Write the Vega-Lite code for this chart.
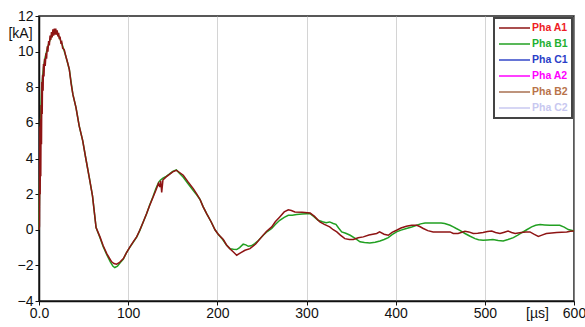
{
  "$schema": "https://vega.github.io/schema/vega-lite/v6.json",
  "autosize": "none",
  "width": 535,
  "height": 285,
  "padding": {"left": 39, "top": 16, "right": 11, "bottom": 26},
  "background": "white",
  "config": {
    "view": {"stroke": "#222", "strokeWidth": 1.5},
    "font": "Liberation Sans",
    "axis": {
      "gridDash": [1, 1],
      "gridColor": "#a8a8a8",
      "gridWidth": 1,
      "domainColor": "#111",
      "domainWidth": 1.5,
      "tickColor": "#111",
      "tickSize": 4,
      "labelColor": "#111",
      "labelFont": "Liberation Sans",
      "titleFont": "Liberation Sans",
      "titleFontWeight": "normal",
      "titleColor": "#111",
      "labelOverlap": false
    },
    "legend": {"strokeWidth": 2}
  },
  "datasets": {
    "curves": [
      {"phase": "Pha B1", "t": 0, "v": 0},
      {"phase": "Pha B1", "t": 1, "v": 4.0},
      {"phase": "Pha B1", "t": 2, "v": 6.5},
      {"phase": "Pha B1", "t": 3, "v": 8.0},
      {"phase": "Pha B1", "t": 5, "v": 9.1},
      {"phase": "Pha B1", "t": 7, "v": 9.7},
      {"phase": "Pha B1", "t": 10, "v": 10.3},
      {"phase": "Pha B1", "t": 14, "v": 10.9},
      {"phase": "Pha B1", "t": 18, "v": 11.1},
      {"phase": "Pha B1", "t": 22, "v": 10.9},
      {"phase": "Pha B1", "t": 26, "v": 10.4},
      {"phase": "Pha B1", "t": 30, "v": 9.75},
      {"phase": "Pha B1", "t": 34, "v": 9.0},
      {"phase": "Pha B1", "t": 38, "v": 7.6},
      {"phase": "Pha B1", "t": 41.5, "v": 6.86},
      {"phase": "Pha B1", "t": 45, "v": 5.85},
      {"phase": "Pha B1", "t": 49, "v": 5.0},
      {"phase": "Pha B1", "t": 52.5, "v": 4.0},
      {"phase": "Pha B1", "t": 56.4, "v": 2.93},
      {"phase": "Pha B1", "t": 60, "v": 1.9},
      {"phase": "Pha B1", "t": 64, "v": 0.12},
      {"phase": "Pha B1", "t": 68.4, "v": -0.45},
      {"phase": "Pha B1", "t": 72, "v": -0.95},
      {"phase": "Pha B1", "t": 76, "v": -1.4},
      {"phase": "Pha B1", "t": 80, "v": -1.8},
      {"phase": "Pha B1", "t": 83, "v": -2.05},
      {"phase": "Pha B1", "t": 85, "v": -2.12},
      {"phase": "Pha B1", "t": 88, "v": -2.05},
      {"phase": "Pha B1", "t": 91, "v": -1.85},
      {"phase": "Pha B1", "t": 94.6, "v": -1.65},
      {"phase": "Pha B1", "t": 98, "v": -1.3},
      {"phase": "Pha B1", "t": 102, "v": -0.98},
      {"phase": "Pha B1", "t": 106, "v": -0.68},
      {"phase": "Pha B1", "t": 109.5, "v": -0.42},
      {"phase": "Pha B1", "t": 113, "v": -0.05},
      {"phase": "Pha B1", "t": 117, "v": 0.45},
      {"phase": "Pha B1", "t": 120.7, "v": 0.9},
      {"phase": "Pha B1", "t": 124, "v": 1.38},
      {"phase": "Pha B1", "t": 128, "v": 1.88},
      {"phase": "Pha B1", "t": 131, "v": 2.3},
      {"phase": "Pha B1", "t": 134, "v": 2.65},
      {"phase": "Pha B1", "t": 136, "v": 2.78},
      {"phase": "Pha B1", "t": 139, "v": 2.9},
      {"phase": "Pha B1", "t": 142.6, "v": 3.0},
      {"phase": "Pha B1", "t": 146, "v": 3.12},
      {"phase": "Pha B1", "t": 150, "v": 3.28},
      {"phase": "Pha B1", "t": 154, "v": 3.36},
      {"phase": "Pha B1", "t": 158, "v": 3.15},
      {"phase": "Pha B1", "t": 161.8, "v": 2.95},
      {"phase": "Pha B1", "t": 167, "v": 2.6},
      {"phase": "Pha B1", "t": 173, "v": 2.2},
      {"phase": "Pha B1", "t": 177, "v": 1.95},
      {"phase": "Pha B1", "t": 180.6, "v": 1.7},
      {"phase": "Pha B1", "t": 184, "v": 1.3},
      {"phase": "Pha B1", "t": 188, "v": 0.91},
      {"phase": "Pha B1", "t": 193, "v": 0.45},
      {"phase": "Pha B1", "t": 197.4, "v": 0.0},
      {"phase": "Pha B1", "t": 201, "v": -0.25},
      {"phase": "Pha B1", "t": 206, "v": -0.55},
      {"phase": "Pha B1", "t": 210, "v": -0.85},
      {"phase": "Pha B1", "t": 214, "v": -1.06},
      {"phase": "Pha B1", "t": 218, "v": -1.1},
      {"phase": "Pha B1", "t": 221.7, "v": -1.11},
      {"phase": "Pha B1", "t": 225, "v": -1.0},
      {"phase": "Pha B1", "t": 229, "v": -0.81},
      {"phase": "Pha B1", "t": 232, "v": -0.85},
      {"phase": "Pha B1", "t": 234.7, "v": -0.93},
      {"phase": "Pha B1", "t": 238, "v": -0.9},
      {"phase": "Pha B1", "t": 242, "v": -0.78},
      {"phase": "Pha B1", "t": 246, "v": -0.6},
      {"phase": "Pha B1", "t": 251.5, "v": -0.31},
      {"phase": "Pha B1", "t": 256, "v": -0.1},
      {"phase": "Pha B1", "t": 261, "v": 0.07},
      {"phase": "Pha B1", "t": 265, "v": 0.3},
      {"phase": "Pha B1", "t": 270, "v": 0.53},
      {"phase": "Pha B1", "t": 275, "v": 0.7},
      {"phase": "Pha B1", "t": 279.6, "v": 0.81},
      {"phase": "Pha B1", "t": 284, "v": 0.82},
      {"phase": "Pha B1", "t": 289, "v": 0.85},
      {"phase": "Pha B1", "t": 295, "v": 0.88},
      {"phase": "Pha B1", "t": 300, "v": 0.9},
      {"phase": "Pha B1", "t": 304, "v": 0.91},
      {"phase": "Pha B1", "t": 308, "v": 0.75},
      {"phase": "Pha B1", "t": 313, "v": 0.53},
      {"phase": "Pha B1", "t": 318, "v": 0.45},
      {"phase": "Pha B1", "t": 322, "v": 0.4},
      {"phase": "Pha B1", "t": 326, "v": 0.44},
      {"phase": "Pha B1", "t": 330, "v": 0.35},
      {"phase": "Pha B1", "t": 333, "v": 0.3},
      {"phase": "Pha B1", "t": 336, "v": 0.1},
      {"phase": "Pha B1", "t": 339.5, "v": -0.12},
      {"phase": "Pha B1", "t": 344, "v": -0.2},
      {"phase": "Pha B1", "t": 349, "v": -0.31},
      {"phase": "Pha B1", "t": 355, "v": -0.5},
      {"phase": "Pha B1", "t": 360, "v": -0.68},
      {"phase": "Pha B1", "t": 365, "v": -0.72},
      {"phase": "Pha B1", "t": 371, "v": -0.74},
      {"phase": "Pha B1", "t": 377, "v": -0.7},
      {"phase": "Pha B1", "t": 382.4, "v": -0.63},
      {"phase": "Pha B1", "t": 387, "v": -0.55},
      {"phase": "Pha B1", "t": 391.7, "v": -0.44},
      {"phase": "Pha B1", "t": 396, "v": -0.28},
      {"phase": "Pha B1", "t": 401, "v": -0.12},
      {"phase": "Pha B1", "t": 406, "v": -0.02},
      {"phase": "Pha B1", "t": 412, "v": 0.07},
      {"phase": "Pha B1", "t": 418, "v": 0.15},
      {"phase": "Pha B1", "t": 423.6, "v": 0.25},
      {"phase": "Pha B1", "t": 428, "v": 0.33},
      {"phase": "Pha B1", "t": 433, "v": 0.38},
      {"phase": "Pha B1", "t": 440, "v": 0.38},
      {"phase": "Pha B1", "t": 446, "v": 0.38},
      {"phase": "Pha B1", "t": 451, "v": 0.38},
      {"phase": "Pha B1", "t": 455, "v": 0.35},
      {"phase": "Pha B1", "t": 461, "v": 0.25},
      {"phase": "Pha B1", "t": 464.6, "v": 0.16},
      {"phase": "Pha B1", "t": 468, "v": 0.07},
      {"phase": "Pha B1", "t": 472, "v": -0.03},
      {"phase": "Pha B1", "t": 477.7, "v": -0.21},
      {"phase": "Pha B1", "t": 483, "v": -0.35},
      {"phase": "Pha B1", "t": 489, "v": -0.5},
      {"phase": "Pha B1", "t": 493, "v": -0.56},
      {"phase": "Pha B1", "t": 498, "v": -0.59},
      {"phase": "Pha B1", "t": 503, "v": -0.57},
      {"phase": "Pha B1", "t": 509, "v": -0.55},
      {"phase": "Pha B1", "t": 515, "v": -0.6},
      {"phase": "Pha B1", "t": 520.6, "v": -0.63},
      {"phase": "Pha B1", "t": 526, "v": -0.55},
      {"phase": "Pha B1", "t": 532, "v": -0.44},
      {"phase": "Pha B1", "t": 537, "v": -0.3},
      {"phase": "Pha B1", "t": 541, "v": -0.18},
      {"phase": "Pha B1", "t": 547, "v": 0.0},
      {"phase": "Pha B1", "t": 552.5, "v": 0.16},
      {"phase": "Pha B1", "t": 557, "v": 0.25},
      {"phase": "Pha B1", "t": 562, "v": 0.29},
      {"phase": "Pha B1", "t": 567, "v": 0.27},
      {"phase": "Pha B1", "t": 573, "v": 0.25},
      {"phase": "Pha B1", "t": 578, "v": 0.25},
      {"phase": "Pha B1", "t": 584, "v": 0.25},
      {"phase": "Pha B1", "t": 589, "v": 0.15},
      {"phase": "Pha B1", "t": 593.6, "v": 0.01},
      {"phase": "Pha B1", "t": 600, "v": -0.07},

      {"phase": "Pha A1", "t": 0, "v": 0},
      {"phase": "Pha A1", "t": 0.5, "v": 0.2},
      {"phase": "Pha A1", "t": 1, "v": 5.8},
      {"phase": "Pha A1", "t": 1.3, "v": 2.0},
      {"phase": "Pha A1", "t": 1.7, "v": 6.2},
      {"phase": "Pha A1", "t": 2, "v": 3.0},
      {"phase": "Pha A1", "t": 2.4, "v": 7.0},
      {"phase": "Pha A1", "t": 2.8, "v": 4.8},
      {"phase": "Pha A1", "t": 3.2, "v": 8.3},
      {"phase": "Pha A1", "t": 3.6, "v": 6.5},
      {"phase": "Pha A1", "t": 4, "v": 8.7},
      {"phase": "Pha A1", "t": 4.6, "v": 7.8},
      {"phase": "Pha A1", "t": 5, "v": 9.3},
      {"phase": "Pha A1", "t": 5.6, "v": 8.6},
      {"phase": "Pha A1", "t": 6.2, "v": 9.6},
      {"phase": "Pha A1", "t": 7, "v": 9.2},
      {"phase": "Pha A1", "t": 7.8, "v": 9.9},
      {"phase": "Pha A1", "t": 8.5, "v": 9.6},
      {"phase": "Pha A1", "t": 9.3, "v": 10.3},
      {"phase": "Pha A1", "t": 10, "v": 10.0},
      {"phase": "Pha A1", "t": 10.8, "v": 10.6},
      {"phase": "Pha A1", "t": 11.6, "v": 10.35},
      {"phase": "Pha A1", "t": 12.4, "v": 10.9},
      {"phase": "Pha A1", "t": 13.2, "v": 10.65},
      {"phase": "Pha A1", "t": 14, "v": 11.1},
      {"phase": "Pha A1", "t": 14.8, "v": 10.8},
      {"phase": "Pha A1", "t": 15.6, "v": 11.25},
      {"phase": "Pha A1", "t": 16.4, "v": 10.9},
      {"phase": "Pha A1", "t": 17.2, "v": 11.3},
      {"phase": "Pha A1", "t": 18, "v": 10.95},
      {"phase": "Pha A1", "t": 18.8, "v": 11.3},
      {"phase": "Pha A1", "t": 19.6, "v": 10.95},
      {"phase": "Pha A1", "t": 20.4, "v": 11.2},
      {"phase": "Pha A1", "t": 21.2, "v": 10.85},
      {"phase": "Pha A1", "t": 22, "v": 11.05},
      {"phase": "Pha A1", "t": 22.8, "v": 10.7},
      {"phase": "Pha A1", "t": 23.6, "v": 10.85},
      {"phase": "Pha A1", "t": 24.5, "v": 10.5},
      {"phase": "Pha A1", "t": 25.5, "v": 10.55},
      {"phase": "Pha A1", "t": 26.5, "v": 10.2},
      {"phase": "Pha A1", "t": 28.4, "v": 10.1},
      {"phase": "Pha A1", "t": 30, "v": 9.75},
      {"phase": "Pha A1", "t": 32, "v": 9.4},
      {"phase": "Pha A1", "t": 34, "v": 9.0},
      {"phase": "Pha A1", "t": 36, "v": 8.2},
      {"phase": "Pha A1", "t": 38, "v": 7.6},
      {"phase": "Pha A1", "t": 41.5, "v": 6.86},
      {"phase": "Pha A1", "t": 45, "v": 5.85},
      {"phase": "Pha A1", "t": 49, "v": 5.0},
      {"phase": "Pha A1", "t": 52.5, "v": 4.0},
      {"phase": "Pha A1", "t": 56.4, "v": 2.93},
      {"phase": "Pha A1", "t": 60, "v": 1.9},
      {"phase": "Pha A1", "t": 64, "v": 0.12},
      {"phase": "Pha A1", "t": 68.4, "v": -0.4},
      {"phase": "Pha A1", "t": 72, "v": -0.9},
      {"phase": "Pha A1", "t": 76, "v": -1.34},
      {"phase": "Pha A1", "t": 79, "v": -1.6},
      {"phase": "Pha A1", "t": 81.5, "v": -1.8},
      {"phase": "Pha A1", "t": 84, "v": -1.9},
      {"phase": "Pha A1", "t": 87, "v": -1.93},
      {"phase": "Pha A1", "t": 90, "v": -1.85},
      {"phase": "Pha A1", "t": 94.6, "v": -1.62},
      {"phase": "Pha A1", "t": 98, "v": -1.3},
      {"phase": "Pha A1", "t": 102, "v": -0.96},
      {"phase": "Pha A1", "t": 106, "v": -0.65},
      {"phase": "Pha A1", "t": 109.5, "v": -0.4},
      {"phase": "Pha A1", "t": 113, "v": -0.03},
      {"phase": "Pha A1", "t": 117, "v": 0.45},
      {"phase": "Pha A1", "t": 120.7, "v": 0.91},
      {"phase": "Pha A1", "t": 124, "v": 1.35},
      {"phase": "Pha A1", "t": 128, "v": 1.84},
      {"phase": "Pha A1", "t": 131, "v": 2.2},
      {"phase": "Pha A1", "t": 134, "v": 2.6},
      {"phase": "Pha A1", "t": 135.5, "v": 2.4},
      {"phase": "Pha A1", "t": 136.5, "v": 2.75},
      {"phase": "Pha A1", "t": 137.6, "v": 2.1},
      {"phase": "Pha A1", "t": 139, "v": 2.8},
      {"phase": "Pha A1", "t": 142.6, "v": 2.97},
      {"phase": "Pha A1", "t": 146, "v": 3.1},
      {"phase": "Pha A1", "t": 150, "v": 3.25},
      {"phase": "Pha A1", "t": 154, "v": 3.34},
      {"phase": "Pha A1", "t": 158, "v": 3.2},
      {"phase": "Pha A1", "t": 161.8, "v": 3.06},
      {"phase": "Pha A1", "t": 167, "v": 2.7},
      {"phase": "Pha A1", "t": 173, "v": 2.31},
      {"phase": "Pha A1", "t": 177, "v": 2.0},
      {"phase": "Pha A1", "t": 180.6, "v": 1.7},
      {"phase": "Pha A1", "t": 184, "v": 1.3},
      {"phase": "Pha A1", "t": 188, "v": 0.91},
      {"phase": "Pha A1", "t": 193, "v": 0.45},
      {"phase": "Pha A1", "t": 197.4, "v": 0.0},
      {"phase": "Pha A1", "t": 201, "v": -0.25},
      {"phase": "Pha A1", "t": 206.7, "v": -0.55},
      {"phase": "Pha A1", "t": 210.5, "v": -0.87},
      {"phase": "Pha A1", "t": 214, "v": -1.06},
      {"phase": "Pha A1", "t": 218, "v": -1.25},
      {"phase": "Pha A1", "t": 221.7, "v": -1.43},
      {"phase": "Pha A1", "t": 226, "v": -1.3},
      {"phase": "Pha A1", "t": 231, "v": -1.15},
      {"phase": "Pha A1", "t": 236.6, "v": -1.06},
      {"phase": "Pha A1", "t": 243, "v": -0.8},
      {"phase": "Pha A1", "t": 249.7, "v": -0.4},
      {"phase": "Pha A1", "t": 255, "v": -0.1},
      {"phase": "Pha A1", "t": 261, "v": 0.16},
      {"phase": "Pha A1", "t": 265, "v": 0.45},
      {"phase": "Pha A1", "t": 270, "v": 0.72},
      {"phase": "Pha A1", "t": 275, "v": 1.0},
      {"phase": "Pha A1", "t": 279.6, "v": 1.12},
      {"phase": "Pha A1", "t": 283, "v": 1.08},
      {"phase": "Pha A1", "t": 287, "v": 1.0},
      {"phase": "Pha A1", "t": 295, "v": 0.98},
      {"phase": "Pha A1", "t": 304, "v": 0.94},
      {"phase": "Pha A1", "t": 309, "v": 0.75},
      {"phase": "Pha A1", "t": 315, "v": 0.44},
      {"phase": "Pha A1", "t": 320, "v": 0.3},
      {"phase": "Pha A1", "t": 326, "v": 0.16},
      {"phase": "Pha A1", "t": 330, "v": 0.0},
      {"phase": "Pha A1", "t": 334, "v": -0.12},
      {"phase": "Pha A1", "t": 338, "v": -0.3},
      {"phase": "Pha A1", "t": 343, "v": -0.5},
      {"phase": "Pha A1", "t": 348, "v": -0.55},
      {"phase": "Pha A1", "t": 352.5, "v": -0.55},
      {"phase": "Pha A1", "t": 358, "v": -0.45},
      {"phase": "Pha A1", "t": 363.7, "v": -0.4},
      {"phase": "Pha A1", "t": 370, "v": -0.3},
      {"phase": "Pha A1", "t": 378.7, "v": -0.21},
      {"phase": "Pha A1", "t": 382, "v": -0.12},
      {"phase": "Pha A1", "t": 387, "v": -0.25},
      {"phase": "Pha A1", "t": 391.7, "v": -0.31},
      {"phase": "Pha A1", "t": 396, "v": -0.15},
      {"phase": "Pha A1", "t": 401, "v": -0.03},
      {"phase": "Pha A1", "t": 406, "v": 0.1},
      {"phase": "Pha A1", "t": 412, "v": 0.2},
      {"phase": "Pha A1", "t": 418, "v": 0.25},
      {"phase": "Pha A1", "t": 423.6, "v": 0.25},
      {"phase": "Pha A1", "t": 427, "v": 0.18},
      {"phase": "Pha A1", "t": 431, "v": 0.07},
      {"phase": "Pha A1", "t": 436, "v": -0.05},
      {"phase": "Pha A1", "t": 442, "v": -0.12},
      {"phase": "Pha A1", "t": 450, "v": -0.12},
      {"phase": "Pha A1", "t": 457, "v": -0.12},
      {"phase": "Pha A1", "t": 461, "v": -0.12},
      {"phase": "Pha A1", "t": 464.6, "v": -0.21},
      {"phase": "Pha A1", "t": 470, "v": -0.21},
      {"phase": "Pha A1", "t": 477.7, "v": -0.08},
      {"phase": "Pha A1", "t": 482, "v": -0.12},
      {"phase": "Pha A1", "t": 487, "v": -0.21},
      {"phase": "Pha A1", "t": 492, "v": -0.2},
      {"phase": "Pha A1", "t": 498, "v": -0.16},
      {"phase": "Pha A1", "t": 503, "v": -0.1},
      {"phase": "Pha A1", "t": 507.7, "v": -0.07},
      {"phase": "Pha A1", "t": 512, "v": -0.15},
      {"phase": "Pha A1", "t": 517, "v": -0.21},
      {"phase": "Pha A1", "t": 521, "v": -0.15},
      {"phase": "Pha A1", "t": 526, "v": -0.07},
      {"phase": "Pha A1", "t": 530, "v": -0.15},
      {"phase": "Pha A1", "t": 534, "v": -0.21},
      {"phase": "Pha A1", "t": 541, "v": -0.16},
      {"phase": "Pha A1", "t": 546, "v": -0.12},
      {"phase": "Pha A1", "t": 550.6, "v": -0.12},
      {"phase": "Pha A1", "t": 555, "v": -0.25},
      {"phase": "Pha A1", "t": 560, "v": -0.37},
      {"phase": "Pha A1", "t": 564, "v": -0.3},
      {"phase": "Pha A1", "t": 569, "v": -0.21},
      {"phase": "Pha A1", "t": 575, "v": -0.18},
      {"phase": "Pha A1", "t": 580.6, "v": -0.16},
      {"phase": "Pha A1", "t": 586, "v": -0.14},
      {"phase": "Pha A1", "t": 591.8, "v": -0.12},
      {"phase": "Pha A1", "t": 596, "v": -0.08},
      {"phase": "Pha A1", "t": 600, "v": -0.07}
    ]
  },
  "layer": [
    {
      "mark": {"type": "rule", "color": "#8c8c8c", "strokeWidth": 1.5},
      "encoding": {
        "y": {
          "datum": 0, "type": "quantitative",
          "scale": {"domain": [-4, 12], "nice": false},
          "axis": {
            "values": [-4, -2, 0, 2, 4, 6, 8, 10, 12],
            "tickCount": 9,
            "labelFontSize": 14,
            "labelPadding": 2,
            "title": "[kA]",
            "titleFontSize": 14,
            "titleAngle": 0,
            "titleX": -19,
            "titleY": 17,
            "titleAlign": "center",
            "titleBaseline": "middle"
          }
        }
      }
    },
    {
      "data": {"name": "curves"},
      "transform": [{"filter": "datum.phase == 'Pha B1'"}],
      "mark": {"type": "line", "strokeWidth": 1.5, "interpolate": "linear"},
      "encoding": {
        "x": {
          "field": "t", "type": "quantitative",
          "scale": {"domain": [0, 600], "nice": false},
          "axis": {
            "values": [0, 100, 200, 300, 400, 500, 600],
            "labelExpr": "datum.value == 0 ? '0.0' : datum.label",
            "labelFontSize": 14,
            "labelPadding": 1,
            "labelFlush": false,
            "title": "[µs]",
            "titleFontSize": 14,
            "titleX": 498,
            "titleY": 12,
            "titleAlign": "center",
            "titleBaseline": "middle",
            "titleAngle": 0
          }
        },
        "y": {
          "field": "v", "type": "quantitative",
          "axis": {
            "values": [-4, -2, 0, 2, 4, 6, 8, 10, 12],
            "tickCount": 9,
            "labelFontSize": 14,
            "labelPadding": 2,
            "title": "[kA]",
            "titleFontSize": 14,
            "titleAngle": 0,
            "titleX": -19,
            "titleY": 17,
            "titleAlign": "center",
            "titleBaseline": "middle"
          }
        },
        "order": {"field": "t", "type": "quantitative"},
        "color": {
          "field": "phase", "type": "nominal",
          "scale": {
            "domain": ["Pha A1", "Pha B1", "Pha C1", "Pha A2", "Pha B2", "Pha C2"],
            "range": ["#8e1414", "#22a022", "#3347c8", "#ff00ff", "#a87050", "#c8c8f0"]
          },
          "legend": {
            "title": null,
            "orient": "top-right",
            "offset": 2,
            "padding": 4,
            "fillColor": "white",
            "strokeColor": "#444",
            "symbolType": "M-1,0H5.2",
            "symbolSize": 100,
            "symbolStrokeWidth": 1.5,
            "labelOffset": 22,
            "labelFontSize": 10.5,
            "labelFontWeight": "bold",
            "labelFont": "Liberation Sans",
            "rowPadding": 4,
            "encode": {
              "symbols": {"update": {"stroke": {"signal": "datum.value == 'Pha A1' ? '#f07070' : datum.value == 'Pha B1' ? '#22a832' : datum.value == 'Pha C1' ? '#4455cc' : datum.value == 'Pha A2' ? '#ff22ff' : datum.value == 'Pha B2' ? '#b080a8' : '#c4c4f0'"}}},
              "labels": {"update": {"fill": {"signal": "datum.value == 'Pha A1' ? '#ee1c24' : datum.value == 'Pha B1' ? '#22b032' : datum.value == 'Pha C1' ? '#2a3ec8' : datum.value == 'Pha A2' ? '#ff00ff' : datum.value == 'Pha B2' ? '#b8734a' : '#c8c8f0'"}}}
            }
          }
        }
      }
    },
    {
      "data": {"name": "curves"},
      "transform": [{"filter": "datum.phase == 'Pha A1'"}],
      "mark": {"type": "line", "strokeWidth": 1.5, "interpolate": "linear"},
      "encoding": {
        "x": {"field": "t", "type": "quantitative"},
        "y": {"field": "v", "type": "quantitative"},
        "order": {"field": "t", "type": "quantitative"},
        "color": {"field": "phase", "type": "nominal"}
      }
    }
  ],
  "resolve": {"scale": {"color": "shared"}}
}
